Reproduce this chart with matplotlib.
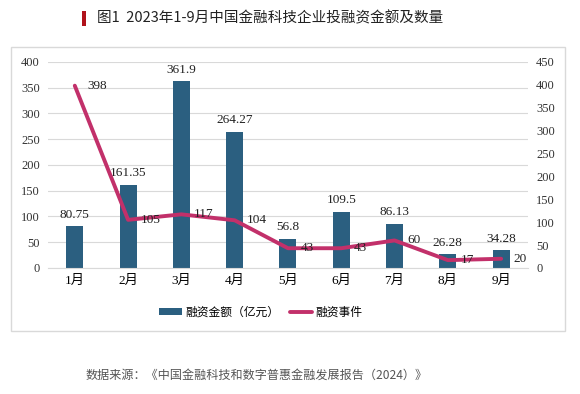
"""
图1 2023年1-9月中国金融科技企业投融资金额及数量
Bar (amount) + line (events) on twin y axes.
"""
import matplotlib
matplotlib.use('Agg')
import matplotlib.pyplot as plt
from matplotlib.patches import Rectangle
import numpy as np

# data
months = ['1月', '2月', '3月', '4月', '5月', '6月', '7月', '8月', '9月']
amount = [80.75, 161.35, 361.9, 264.27, 56.8, 109.5, 86.13, 26.28, 34.28]
amount_labels = ['80.75', '161.35', '361.9', '264.27', '56.8', '109.5', '86.13', '26.28', '34.28']
events = [398, 105, 117, 104, 43, 43, 60, 17, 20]
left_ticks = [0, 50, 100, 150, 200, 250, 300, 350, 400]
right_ticks = [0, 50, 100, 150, 200, 250, 300, 350, 400, 450]

BAR_COLOR = '#2B5F80'
LINE_COLOR = '#C2306A'
SERIF = ['Liberation Serif', 'Noto Sans CJK SC']
CJK = ['Noto Sans CJK SC', 'DejaVu Sans']

plt.rcParams['font.family'] = CJK

fig = plt.figure(figsize=(5.8, 3.94), dpi=100)
fig.patch.set_facecolor('white')

# outer frame of the chart
fig.patches.append(Rectangle((0.019, 0.160), 0.955, 0.721, transform=fig.transFigure,
                             fill=False, edgecolor='#D9D9D9', linewidth=1))

ax1 = fig.add_axes([0.083, 0.320, 0.827, 0.523])
ax2 = ax1.twinx()

x = np.arange(len(months))
ax1.bar(x, amount, width=0.32, color=BAR_COLOR, zorder=2, label='融资金额（亿元）')
ax2.plot(x, events, color=LINE_COLOR, linewidth=2.8, solid_joinstyle='round',
         solid_capstyle='round', zorder=3, label='融资事件')

# bar labels
for xi, v, s in zip(x, amount, amount_labels):
    ax1.annotate(s, (xi, v), xytext=(0, 4), textcoords='offset points',
                 ha='center', va='bottom', fontsize=9.5, family=SERIF, color='#222222')
# line labels
for xi, v in zip(x, events):
    ax2.annotate(str(v), (xi, v), xytext=(9, 0), textcoords='offset points',
                 ha='left', va='center', fontsize=9.5, family=SERIF, color='#222222')

ax1.set_xlim(-0.5, len(months) - 0.5)
ax1.set_ylim(0, 400)
ax2.set_ylim(0, 450)
ax1.set_yticks(left_ticks)
ax2.set_yticks(right_ticks)
ax1.set_xticks(x)
ax1.set_xticklabels(months, family=SERIF, fontsize=9.5)
for lbl in ax1.get_yticklabels() + ax2.get_yticklabels():
    lbl.set_family(SERIF)
    lbl.set_fontsize(9)
    lbl.set_color('#333333')

ax1.grid(axis='y', color='#D9D9D9', linewidth=0.8, zorder=0)
ax1.set_axisbelow(True)
for ax in (ax1, ax2):
    for sp in ax.spines.values():
        sp.set_visible(False)
    ax.tick_params(length=0, pad=6)
ax1.spines['bottom'].set_visible(True)
ax1.spines['bottom'].set_color('#D9D9D9')
ax1.tick_params(axis='x', pad=5)

# legend
h1, l1 = ax1.get_legend_handles_labels()
h2, l2 = ax2.get_legend_handles_labels()
fig.legend(h1 + h2, l1 + l2, loc='center', bbox_to_anchor=(0.45, 0.208), ncol=2,
           frameon=False, fontsize=8.5, handlelength=1.9, handleheight=0.6,
           columnspacing=0.9, handletextpad=0.3)

# title with red marker
fig.patches.append(Rectangle((0.141, 0.935), 0.007, 0.036, transform=fig.transFigure,
                             facecolor='#B0121B', edgecolor='none'))
fig.text(0.167, 0.953, '图1  2023年1-9月中国金融科技企业投融资金额及数量',
         ha='left', va='center', fontsize=10.5, color='#222222')

# source
fig.text(0.443, 0.048, '数据来源：《中国金融科技和数字普惠金融发展报告（2024）》',
         ha='center', va='center', fontsize=8.7, color='#555555')

fig.savefig('out.png', dpi=100, facecolor='white')
